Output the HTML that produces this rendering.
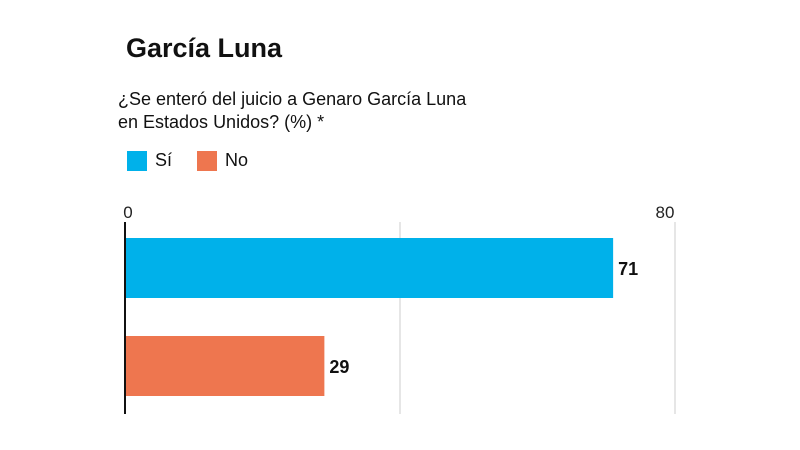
<!DOCTYPE html>
<html><head><meta charset="utf-8"><style>
body{margin:0;width:800px;height:450px;background:#fff;font-family:"Liberation Sans",sans-serif;overflow:hidden;position:relative;color:#111}
.t{position:absolute;white-space:nowrap}
</style></head><body>
<div class="t" style="left:126px;top:33px;font-size:27px;font-weight:bold">García Luna</div>
<div class="t" style="left:118px;top:88px;font-size:18px;line-height:23px">¿Se enteró del juicio a Genaro García Luna<br>en Estados Unidos? (%) *</div>
<div>
<div style="position:absolute;left:127px;top:151px;width:20px;height:20px;background:#00b1ea"></div>
<div class="t" style="left:155px;top:150px;font-size:18px">Sí</div></div>
<div>
<div style="position:absolute;left:197px;top:151px;width:20px;height:20px;background:#ee764f"></div>
<div class="t" style="left:225px;top:150px;font-size:18px">No</div></div>
<svg width="800" height="450" style="position:absolute;left:0;top:0" id="chart"></svg>
<script>
const categories=["Sí","No"];
const values=[71,29];
const colors=["#00b1ea","#ee764f"];
const ticks=[0,40,80];
const tickLabels=["0","","80"];
const svg=document.getElementById('chart');
const NS='http://www.w3.org/2000/svg';
const x=v=>125+v*(675-125)/80;
const barY=i=>238+i*98;
function el(t,a){const e=document.createElementNS(NS,t);for(const k in a)e.setAttribute(k,a[k]);svg.appendChild(e);return e;}
ticks.forEach((t,i)=>{
 if(t>0){const g=el('line',{x1:x(t),x2:x(t),y1:222,y2:414,stroke:'#ccc','stroke-width':1});
 
 }
 if(tickLabels[i]){const tx=el('text',{x:x(t)+(t===0?3:-10),y:218,'font-size':17,'text-anchor':t===0?'middle':'middle',fill:'#222','font-family':'Liberation Sans, sans-serif'});
 tx.textContent=tickLabels[i];
 
 }
});
categories.forEach((c,i)=>{
 const r=el('rect',{x:x(0),y:barY(i),width:x(values[i])-x(0),height:60,fill:colors[i]});
 
 
 const tx=el('text',{x:x(values[i])+5,y:barY(i)+37,'font-size':18,'font-weight':'bold',fill:'#111','font-family':'Liberation Sans, sans-serif'});
 tx.textContent=values[i];
 
 
});
const ax=el('line',{x1:x(0),x2:x(0),y1:222,y2:414,stroke:'#111','stroke-width':2});


</script>
</body></html>
